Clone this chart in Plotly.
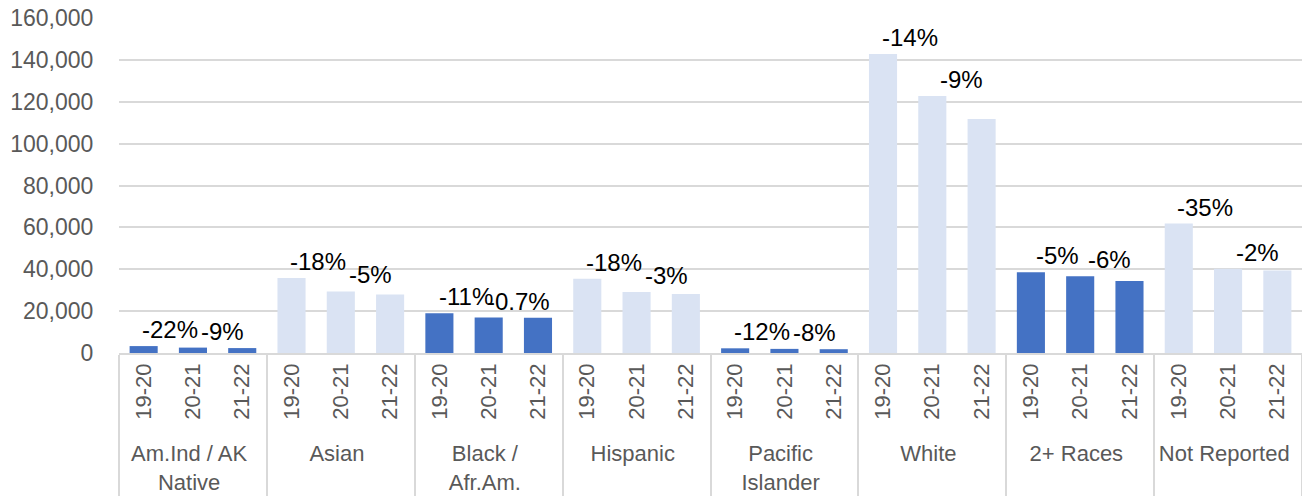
import plotly.graph_objects as go

groups = ["Am.Ind / AK<br>Native", "Asian", "Black /<br>Afr.Am.", "Hispanic",
          "Pacific<br>Islander", "White", "2+ Races", "Not Reported"]
years = ["19-20", "20-21", "21-22"]

# enrollment values per group, in order 19-20, 20-21, 21-22
am_ind = [3300, 2580, 2350]
asian = [35800, 29400, 27900]
black = [19000, 16900, 16780]
hispanic = [35500, 29100, 28200]
pacific = [2240, 1970, 1810]
white = [142800, 122800, 111750]
two_plus = [38540, 36610, 34410]
not_reported = [61800, 40200, 39400]

# percent-change labels (19-20 -> 20-21, 20-21 -> 21-22)
pct_labels = [
    ["-22%", "-9%"],
    ["-18%", "-5%"],
    ["-11%", "-0.7%"],
    ["-18%", "-3%"],
    ["-12%", "-8%"],
    ["-14%", "-9%"],
    ["-5%", "-6%"],
    ["-35%", "-2%"],
]

series = [am_ind, asian, black, hispanic, pacific, white, two_plus, not_reported]
dark = "#4472C4"
light = "#DAE3F3"

xg, xy, vals, cols = [], [], [], []
for gi, (g, s) in enumerate(zip(groups, series)):
    for y, v in zip(years, s):
        xg.append(g)
        xy.append(y)
        vals.append(v)
        cols.append(dark if gi % 2 == 0 else light)

fig = go.Figure()
fig.add_trace(go.Bar(
    x=[xg, xy], y=vals, marker=dict(color=cols, line=dict(width=0)),
    hoverinfo="x+y",
))

for gi, (s, labs) in enumerate(zip(series, pct_labels)):
    for j, lab in enumerate(labs):
        fig.add_annotation(
            x=gi * 3 + j + 0.5, y=s[j], text=lab, showarrow=False,
            xref="x", yref="y", yanchor="bottom", xanchor="center",
            xshift=2 if j == 0 else 5, yshift=1,
            font=dict(family="Liberation Sans, Arial, sans-serif", size=24, color="#000000"),
        )

fig.update_layout(
    width=1302, height=501,
    margin=dict(l=119, r=0, t=18, b=148),
    paper_bgcolor="white", plot_bgcolor="white",
    showlegend=False, bargap=0.43,
    font=dict(family="Liberation Sans, Arial, sans-serif", color="#595959"),
)
fig.update_yaxes(
    range=[0, 160000], dtick=20000, tickformat=",",
    gridcolor="#D9D9D9", gridwidth=1.5, zeroline=False, showline=False,
    ticks="outside", ticklen=20, tickcolor="rgba(0,0,0,0)",
    tickfont=dict(size=23, color="#595959"),
)
fig.update_xaxes(
    type="multicategory", tickangle=-90,
    showline=True, linecolor="#D9D9D9", linewidth=1.5,
    showdividers=True, dividercolor="#D9D9D9", dividerwidth=1.5,
    tickfont=dict(size=22, color="#595959"),
    automargin=False,
)

fig.write_html("out.html")
